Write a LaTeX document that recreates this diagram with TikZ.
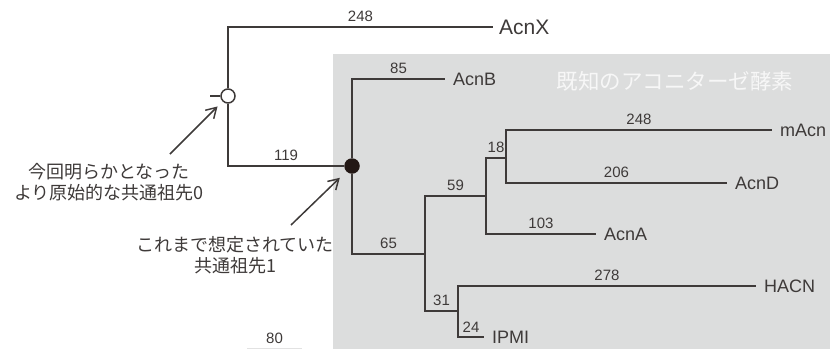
\documentclass[tikz,border=0pt]{standalone}
\usepackage{fontspec}
\setmainfont{Liberation Sans}
\newfontfamily\cjk{Noto Sans CJK JP}
\usetikzlibrary{arrows.meta}
\definecolor{bggray}{HTML}{DCDDDD}
\definecolor{ink}{HTML}{3E3A39}
\definecolor{dot}{HTML}{231815}
\definecolor{titlewhite}{HTML}{F7F7F7}
\definecolor{scalegray}{HTML}{E2E2E2}
\tikzset{
  br/.style={draw=ink, line width=1.8pt, line join=miter},
  lab/.style={pos=0.75, anchor=south, inner sep=0pt, yshift=4pt, text=ink,
    font=\fontsize{15}{17}\selectfont},
  leaf/.style={anchor=west, inner xsep=8pt, inner ysep=0pt, text=ink,
    font=\fontsize{18}{21}\selectfont},
  jtext/.style={align=center, inner sep=0pt, text=ink,
    font=\cjk\fontsize{18}{21}\selectfont},
  arr/.style={draw=ink, line width=1.5pt, -{Straight Barb[length=10pt,width=12pt,line width=1.5pt]}},
}
\begin{document}
\begin{tikzpicture}[x=1pt,y=-1pt]
\useasboundingbox (0,0) rectangle (830,349);
\fill[bggray] (333,54) rectangle (830,349);

% internal nodes
\node[circle, draw=ink, fill=white, line width=1.5pt, minimum size=14pt, inner sep=0pt] (o0) at (228,96) {};
\node[circle, fill=dot, minimum size=15.5pt, inner sep=0pt] (o1) at (352,166) {};
\coordinate (root) at (210,96);
\coordinate (nA) at (425,254);
\coordinate (nB) at (486,196);
\coordinate (nC) at (506,158);
\coordinate (nD) at (458,311);

% leaves
\node[leaf, font=\fontsize{21}{24}\selectfont, inner xsep=6pt] (AcnX) at (493,27) {AcnX};
\node[leaf] (AcnB) at (445,79) {AcnB};
\node[leaf] (mAcn) at (772,130) {mAcn};
\node[leaf] (AcnD) at (727,183) {AcnD};
\node[leaf] (AcnA) at (596,234) {AcnA};
\node[leaf] (HACN) at (756,286) {HACN};
\node[leaf] (IPMI) at (484,337) {IPMI};

% branches
\draw[br] (root) -- (o0);
\draw[br] (o0) |- (AcnX.west) node[lab] (l1) {248};
\draw[br] (o0) |- (o1) node[lab] (l2) {119};
\draw[br] (o1) |- (AcnB.west) node[lab] (l3) {85};
\draw[br] (o1) |- (nA) node[lab] (l4) {65};
\draw[br] (nA) |- (nB) node[lab] (l5) {59};
\draw[br] (nA) |- (nD) node[lab] (l6) {31};
\draw[br] (nB) |- (nC) node[lab] (l7) {18};
\draw[br] (nB) |- (AcnA.west) node[lab] (l8) {103};
\draw[br] (nC) |- (mAcn.west) node[lab] (l9) {248};
\draw[br] (nC) |- (AcnD.west) node[lab] (l10) {206};
\draw[br] (nD) |- (HACN.west) node[lab] (l11) {278};
\draw[br] (nD) |- (IPMI.west) node[lab] (l12) {24};

% title
\node[text=titlewhite, inner sep=0pt, font=\cjk\fontsize{21.5}{24}\selectfont] (title) at (675,81) {既知のアコニターゼ酵素};

% annotations
\node[jtext] (j0) at (109,182.5) {今回明らかとなった\\より原始的な共通祖先0};
\node[jtext] (j1) at (235,255.5) {これまで想定されていた\\共通祖先1};
\coordinate (a0) at (170,154);
\coordinate (a1) at (291,225);
\draw[arr, shorten >=7pt] (a0) -- (o0);
\draw[arr, shorten >=9pt] (a1) -- (o1);

% scale bar
\coordinate (s0) at (247,348.5);
\coordinate (s1) at (302,348.5);
\draw[draw=scalegray, line width=1pt] (s0) -- (s1) node[midway, anchor=south, inner sep=0pt, yshift=4pt, text=ink, font=\fontsize{15}{17}\selectfont] (l80) {80};
\end{tikzpicture}
\end{document}
